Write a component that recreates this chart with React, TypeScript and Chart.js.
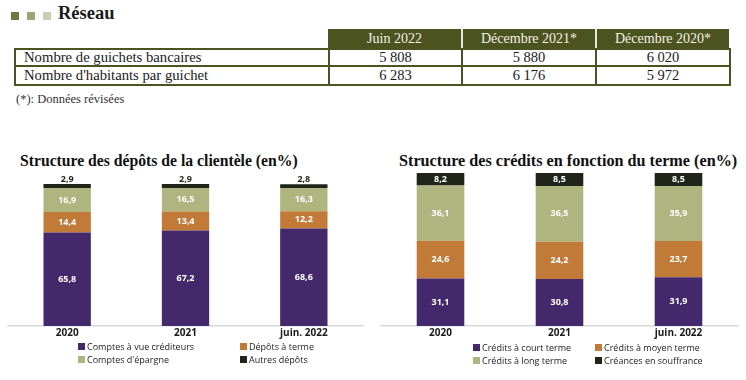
import React, { useEffect, useRef } from "react";
import { Chart, registerables } from "chart.js";

Chart.register(...registerables);

// ---- Table data ----
const tableColumns = ["Juin 2022", "Décembre 2021*", "Décembre 2020*"];
const tableRows = ["Nombre de guichets bancaires", "Nombre d'habitants par guichet"];
const guichetsValues = ["5 808", "5 880", "6 020"];
const habitantsValues = ["6 283", "6 176", "5 972"];

// ---- Chart data ----
const categories = ["2020", "2021", "juin. 2022"];

const depotsLabels = ["Comptes à vue créditeurs", "Dépôts à terme", "Comptes d'épargne", "Autres dépôts"];
const comptesAVue = [65.8, 67.2, 68.6];
const depotsATerme = [14.4, 13.4, 12.2];
const comptesEpargne = [16.9, 16.5, 16.3];
const autresDepots = [2.9, 2.9, 2.8];

const creditsLabels = ["Crédits à court terme", "Crédits à moyen terme", "Crédits à long terme", "Créances en souffrance"];
const creditsCourt = [31.1, 30.8, 31.9];
const creditsMoyen = [24.6, 24.2, 23.7];
const creditsLong = [36.1, 36.5, 35.9];
const creances = [8.2, 8.5, 8.5];

const COLORS = ["#44286c", "#c17a37", "#aeb57e", "#1f2619"];
const OLIVE = "#4b5320";
const SANS = "'Open Sans', 'DejaVu Sans', sans-serif";
const SERIF = "'Liberation Serif', 'DejaVu Serif', serif";

function fmt(v: number) {
  return v.toFixed(1).replace(".", ",");
}

function makeLabelPlugin(lastAbove: boolean) {
  return {
    id: "segLabels",
    afterDatasetsDraw(chart: any) {
      const ctx = chart.ctx;
      ctx.save();
      ctx.font = `bold 9px ${SANS}`;
      ctx.textAlign = "center";
      chart.data.datasets.forEach((ds: any, di: number) => {
        const meta = chart.getDatasetMeta(di);
        meta.data.forEach((bar: any, i: number) => {
          const v = ds.data[i];
          const isLast = di === chart.data.datasets.length - 1;
          if (isLast && lastAbove) {
            ctx.fillStyle = "#1f2619";
            ctx.textBaseline = "bottom";
            ctx.fillText(fmt(v), bar.x, bar.y - 0.5);
          } else {
            ctx.fillStyle = "#ffffff";
            ctx.textBaseline = "middle";
            ctx.fillText(fmt(v), bar.x, (bar.y + bar.base) / 2);
          }
        });
      });
      ctx.restore();
    },
  };
}

function StackChart(props: { labels: string[]; series: number[][]; lastAbove: boolean; padTop: number; padLeft: number; padRight: number; style: React.CSSProperties }) {
  const ref = useRef<HTMLCanvasElement>(null);
  useEffect(() => {
    const chart = new Chart(ref.current!, {
      type: "bar",
      data: {
        labels: categories,
        datasets: props.series.map((s, i) => ({
          label: props.labels[i],
          data: s,
          backgroundColor: COLORS[i],
          borderWidth: 0,
          barPercentage: 0.8,
          categoryPercentage: 0.5,
        })),
      },
      options: {
        animation: false,
        responsive: false,
        maintainAspectRatio: false,
        layout: { padding: { top: props.padTop, left: props.padLeft, right: props.padRight, bottom: 0 } },
        plugins: { legend: { display: false }, tooltip: { enabled: false }, title: { display: false } },
        scales: {
          x: {
            stacked: true,
            grid: { display: false, drawTicks: false },
            border: { display: true, color: "#d9d9d9", width: 1.5 },
            ticks: { color: "#1a1a1a", font: { family: SANS, size: 10, weight: "bold" }, padding: 1 },
          },
          y: { stacked: true, display: false, min: 0, max: 100 },
        },
      },
      plugins: [makeLabelPlugin(props.lastAbove)],
    } as any);
    return () => chart.destroy();
  }, []);
  return <canvas ref={ref} width={props.style.width as number} height={props.style.height as number} style={{ position: "absolute", ...props.style }} />;
}

function Legend(props: { labels: string[]; x1: number; x2: number; y1: number; y2: number }) {
  const pos = [
    [props.x1, props.y1],
    [props.x2, props.y1],
    [props.x1, props.y2],
    [props.x2, props.y2],
  ];
  return (
    <>
      {props.labels.map((l, i) => (
        <div
          key={l}
          style={{
            position: "absolute",
            left: pos[i][0],
            top: pos[i][1] - 7,
            height: 14,
            display: "flex",
            alignItems: "center",
            fontFamily: SANS,
            fontSize: 9,
            color: "#222",
            whiteSpace: "nowrap",
          }}
        >
          <span style={{ display: "inline-block", width: 7, height: 7, background: COLORS[i], marginRight: 2 }} />
          {l}
        </div>
      ))}
    </>
  );
}

export default function App() {
  const colX = [328, 461, 595, 729];
  const rowY = [29, 48, 67, 86];
  const cell = (x: number, y: number, w: number, h: number, extra: React.CSSProperties, content: React.ReactNode, key: string) => (
    <div
      key={key}
      style={{
        position: "absolute",
        left: x,
        top: y,
        width: w,
        height: h,
        boxSizing: "border-box",
        display: "flex",
        alignItems: "center",
        ...extra,
      }}
    >
      {content}
    </div>
  );
  const cells: React.ReactNode[] = [];
  tableColumns.forEach((c, i) => {
    cells.push(
      cell(colX[i], rowY[0], colX[i + 1] - colX[i], rowY[1] - rowY[0], {
        background: OLIVE,
        color: "#f4f1e4",
        justifyContent: "center",
        fontFamily: SERIF,
        fontSize: 14,
        borderLeft: i > 0 ? "2px solid #e8e8dc" : "none",
      }, c, "h" + i)
    );
  });
  const rowVals = [guichetsValues, habitantsValues];
  tableRows.forEach((r, ri) => {
    const y = rowY[ri + 1] - (ri === 0 ? 0 : 2);
    const h = rowY[ri + 2] - rowY[ri + 1] + (ri === 0 ? 0 : 2);
    cells.push(
      cell(14, y, colX[0] - 14 + 2, h, {
        border: `2px solid ${OLIVE}`,
        paddingLeft: 8,
        fontFamily: SERIF,
        fontSize: 14.7,
        color: "#1a1a1a",
      }, r, "r" + ri)
    );
    rowVals[ri].forEach((v, ci) => {
      cells.push(
        cell(colX[ci], y, colX[ci + 1] - colX[ci] + 2, h, {
          border: `2px solid ${OLIVE}`,
          justifyContent: "center",
          fontFamily: SERIF,
          fontSize: 14.5,
          color: "#1a1a1a",
        }, v, "v" + ri + ci)
      );
    });
  });

  return (
    <div style={{ position: "absolute", left: 0, top: 0, width: 746, height: 380, background: "#fff", overflow: "hidden" }}>
      {/* Section header */}
      <div style={{ position: "absolute", left: 11, top: 12, width: 8, height: 8, background: "#6b7a3d" }} />
      <div style={{ position: "absolute", left: 27, top: 12, width: 8, height: 8, background: "#9aa771" }} />
      <div style={{ position: "absolute", left: 43, top: 12, width: 8, height: 8, background: "#c9cfb2" }} />
      <div style={{ position: "absolute", left: 58, top: 3, fontFamily: SERIF, fontWeight: "bold", fontSize: 18.5, color: "#1a1a1a" }}>Réseau</div>
      {cells}
      <div style={{ position: "absolute", left: 16, top: 92, fontFamily: SERIF, fontSize: 12.5, color: "#333" }}>(*): Données révisées</div>

      {/* Titles */}
      <div style={{ position: "absolute", left: 20, top: 152, fontFamily: SERIF, fontWeight: "bold", fontSize: 15.7, color: "#111", whiteSpace: "nowrap" }}>
        Structure des dépôts de la clientèle (en%)
      </div>
      <div style={{ position: "absolute", left: 399, top: 152, fontFamily: SERIF, fontWeight: "bold", fontSize: 16.2, color: "#111", whiteSpace: "nowrap" }}>
        Structure des crédits en fonction du terme (en%)
      </div>

      <StackChart
        labels={depotsLabels}
        series={[comptesAVue, depotsATerme, comptesEpargne, autresDepots]}
        lastAbove={true}
        padTop={12}
        padLeft={8}
        padRight={10}
        style={{ left: 0, top: 172, width: 373, height: 168 }}
      />
      <StackChart
        labels={creditsLabels}
        series={[creditsCourt, creditsMoyen, creditsLong, creances]}
        lastAbove={false}
        padTop={1}
        padLeft={8}
        padRight={8}
        style={{ left: 373, top: 172, width: 373, height: 168 }}
      />
      <Legend labels={depotsLabels} x1={78} x2={240} y1={346} y2={359} />
      <Legend labels={creditsLabels} x1={473} x2={595} y1={347} y2={360} />
    </div>
  );
}
